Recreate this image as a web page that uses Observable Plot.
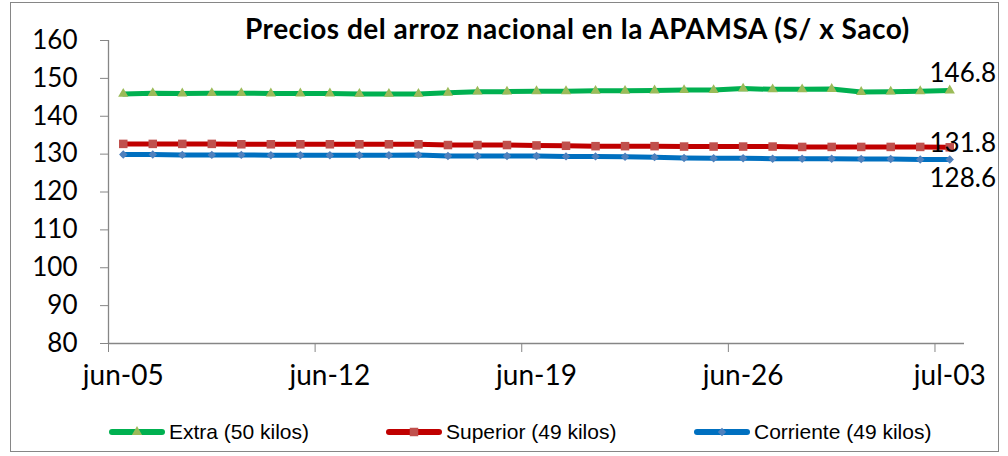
<!DOCTYPE html>
<html>
<head>
<meta charset="utf-8">
<script src="https://cdn.jsdelivr.net/npm/d3@7"></script>
<script src="https://cdn.jsdelivr.net/npm/@observablehq/plot@0.6"></script>
<style>
  html, body { margin: 0; padding: 0; background: #fff; }
  #wrap { position: relative; width: 1008px; height: 456px; overflow: hidden; }
  #border { position: absolute; left: 10px; top: 2px; width: 989px; height: 450px; border: 1px solid #868686; box-sizing: border-box; }
  #title { position: absolute; left: 245px; top: 11px; white-space: nowrap; font-family: Lato, sans-serif; font-weight: bold; font-size: 28px; letter-spacing: 0.5px; color: #000; }
  #chart { position: absolute; left: 0; top: 0; }
  .leg { position: absolute; top: 420px; height: 24px; display: flex; align-items: center; font-family: "Liberation Sans", Arial, sans-serif; font-size: 21px; color: #000; white-space: nowrap; }
  .leg svg { margin-right: 3px; }
</style>
</head>
<body>
<div id="wrap">
  <div id="border"></div>
  <div id="chart"></div>
  <div id="title">Precios del arroz nacional en la APAMSA (S/ x Saco)</div>
  <div id="legend"></div>
</div>
<script>
const dates = [
  "2023-06-05","2023-06-06","2023-06-07","2023-06-08","2023-06-09","2023-06-10","2023-06-11",
  "2023-06-12","2023-06-13","2023-06-14","2023-06-15","2023-06-16","2023-06-17","2023-06-18",
  "2023-06-19","2023-06-20","2023-06-21","2023-06-22","2023-06-23","2023-06-24","2023-06-25",
  "2023-06-26","2023-06-27","2023-06-28","2023-06-29","2023-06-30","2023-07-01","2023-07-02",
  "2023-07-03"
];
const extra = [
  145.9, 146.1, 146.0, 146.1, 146.1, 146.0, 146.0,
  146.0, 145.9, 145.9, 145.9, 146.2, 146.5, 146.5,
  146.6, 146.6, 146.7, 146.7, 146.8, 146.9, 146.9,
  147.3, 147.1, 147.1, 147.2, 146.4, 146.5, 146.6,
  146.8
];
const superior = [
  132.7, 132.7, 132.7, 132.7, 132.6, 132.6, 132.6,
  132.6, 132.6, 132.6, 132.6, 132.4, 132.4, 132.4,
  132.3, 132.2, 132.1, 132.1, 132.1, 132.0, 132.0,
  132.0, 132.0, 131.9, 131.9, 131.9, 131.9, 131.9,
  131.8
];
const corriente = [
  129.9, 129.9, 129.8, 129.8, 129.8, 129.7, 129.7,
  129.7, 129.7, 129.7, 129.8, 129.5, 129.5, 129.5,
  129.5, 129.4, 129.4, 129.3, 129.2, 129.0, 128.9,
  128.9, 128.8, 128.8, 128.8, 128.7, 128.7, 128.6,
  128.6
];
const seriesNames = ["Extra (50 kilos)", "Superior (49 kilos)", "Corriente (49 kilos)"];
const lineColors = ["#00B050", "#C00000", "#0070C0"];
const markerColors = ["#9BBB59", "#C0504D", "#4F81BD"];
const markerSymbols = ["triangle", "square", "diamond2"];
const yTicks = [80, 90, 100, 110, 120, 130, 140, 150, 160];
const xTickDates = ["2023-06-05", "2023-06-12", "2023-06-19", "2023-06-26", "2023-07-03"];
const xTickLabels = ["jun-05", "jun-12", "jun-19", "jun-26", "jul-03"];

const parse = d3.isoParse;
const mid = s => d3.utcHour.offset(parse(s), 12);
const seriesValues = [extra, superior, corriente];
const rows = seriesValues.map((vals, k) => dates.map((d, i) => ({date: mid(d), value: vals[i], k})));
const tickMid = xTickDates.map(mid);
const labelMap = new Map(tickMid.map((d, i) => [+d, xTickLabels[i]]));
const xStart = parse(dates[0]);
const xEnd = d3.utcDay.offset(parse(dates[dates.length - 1]), 1);

const markerR = [3.8, 4.8, 3.8];
const labelDy = [-17, -4, 19];

const marks = [
  Plot.ruleX([xStart], {stroke: "#868686", strokeWidth: 1.3}),
  Plot.ruleY([80], {stroke: "#868686", strokeWidth: 1.3}),
  Plot.axisY({ticks: yTicks, tickSize: 8, tickPadding: 23, fontSize: 26, stroke: "#868686", label: null}),
  Plot.axisX({ticks: xTickDates.map(parse), tickSize: 9, tickFormat: () => "", stroke: "#868686", label: null}),
  Plot.axisX({ticks: tickMid, tickSize: 0, tickPadding: 22, fontSize: 28, tickFormat: d => labelMap.get(+d), label: null})
];
rows.forEach((r, k) => {
  marks.push(Plot.line(r, {x: "date", y: "value", stroke: lineColors[k], strokeWidth: 5}));
});
rows.forEach((r, k) => {
  marks.push(Plot.dot(r, {x: "date", y: "value", symbol: () => markerSymbols[k], fill: markerColors[k], r: markerR[k], stroke: "none"}));
});
rows.forEach((r, k) => {
  const last = r[r.length - 1];
  marks.push(Plot.text([last], {x: "date", y: "value", text: d => d.value.toFixed(1), dx: 13, dy: labelDy[k], fontSize: 26, fill: "#000"}));
});

const chart = Plot.plot({
  width: 1008,
  height: 456,
  marginLeft: 108,
  marginRight: 44,
  marginTop: 40,
  marginBottom: 113,
  style: {background: "transparent", fontFamily: "Lato, sans-serif", overflow: "visible"},
  x: {type: "utc", domain: [xStart, xEnd]},
  y: {domain: [80, 160]},
  symbol: {type: "identity"},
  marks
});
document.getElementById("chart").appendChild(chart);

// legend
const legendX = [108, 385, 693];
const legend = document.getElementById("legend");
seriesNames.forEach((name, k) => {
  const div = document.createElement("div");
  div.className = "leg";
  div.style.left = legendX[k] + "px";
  const sym = d3.symbol().type(k === 0 ? d3.symbolTriangle : k === 1 ? d3.symbolSquare : d3.symbolDiamond2).size(k === 1 ? 72 : 45)();
  div.innerHTML = `<svg width="58" height="24"><line x1="4" x2="54" y1="12" y2="12" stroke="${lineColors[k]}" stroke-width="6" stroke-linecap="round"/><path transform="translate(29,12)" d="${sym}" fill="${markerColors[k]}"/></svg><span>${name}</span>`;
  legend.appendChild(div);
});
</script>
</body>
</html>
